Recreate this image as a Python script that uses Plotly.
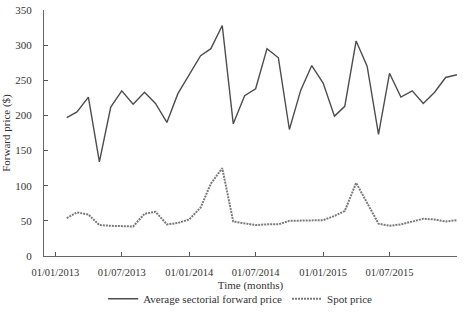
import plotly.graph_objects as go

months = [f"{y}-{m:02d}-01" for y, m in
          [(2013, m) for m in range(2, 13)] + [(2014, m) for m in range(1, 13)] +
          [(2015, m) for m in range(1, 13)] + [(2016, 1)]]

forward = [197, 205, 226, 134, 212, 235, 216, 233, 217, 190, 231,
           258, 285, 295, 328, 188, 228, 238, 295, 282, 180, 236, 271,
           246, 199, 213, 306, 270, 173, 260, 226, 235, 217, 233, 254,
           258]

spot = [54, 62, 59, 44, 43, 42, 42, 60, 63, 45, 47,
        52, 69, 103, 125, 49, 46, 44, 45, 45, 50, 50, 50,
        51, 57, 64, 104, 75, 46, 43, 45, 49, 53, 52, 49,
        51]

tick_vals = ["2013-01-01", "2013-07-01", "2014-01-01", "2014-07-01",
             "2015-01-01", "2015-07-01", "2016-01-01"]
tick_text = ["01/01/2013", "01/07/2013", "01/01/2014", "01/07/2014",
             "01/01/2015", "01/07/2015", ""]
y_ticks = [0, 50, 100, 150, 200, 250, 300, 350]

font = "Liberation Serif, Times New Roman, serif"

fig = go.Figure()
fig.add_trace(go.Scatter(x=months, y=forward, mode="lines",
                         name="Average sectorial forward price",
                         line=dict(color="#4d4d4d", width=1.4)))
fig.add_trace(go.Scatter(x=months, y=spot, mode="lines",
                         name="Spot price",
                         line=dict(color="#7a7a7a", width=2, dash="2px,1px")))

fig.update_layout(
    width=471, height=316,
    margin=dict(l=44, r=14, t=10, b=60, autoexpand=False),
    paper_bgcolor="white", plot_bgcolor="white",
    font=dict(family=font, size=11, color="#333333"),
    showlegend=True,
    legend=dict(orientation="h", x=0.475, xanchor="center", y=-0.115, yanchor="top",
                font=dict(size=11), itemwidth=30, bgcolor="rgba(0,0,0,0)"),
    xaxis=dict(type="date", range=["2012-12-01", "2016-01-01"],
               tickvals=tick_vals, ticktext=tick_text, automargin=False,
               ticks="inside", ticklen=4, tickcolor="#555",
               showline=True, linecolor="#666", linewidth=1,
               showgrid=False, zeroline=False,
               tickfont=dict(size=10.5), ticklabelstandoff=6,
               title=dict(text="Time (months)", font=dict(size=11), standoff=4)),
    yaxis=dict(range=[0, 350], tickvals=y_ticks, automargin=False,
               ticks="inside", ticklen=4, tickcolor="#555",
               showline=True, linecolor="#666", linewidth=1,
               showgrid=False, zeroline=False, ticklabelstandoff=9,
               title=dict(text="Forward price ($)", font=dict(size=11), standoff=6)),
)

fig.write_html("out.html", config={"displayModeBar": False},
               post_script="document.body.style.margin='0';")
